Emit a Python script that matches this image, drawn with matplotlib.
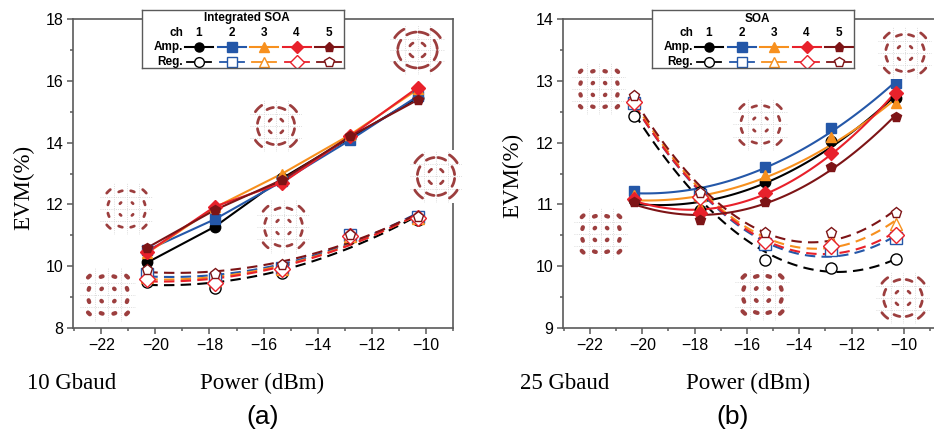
import numpy as np
import matplotlib.pyplot as plt
from matplotlib.ticker import MultipleLocator

# ---- data ----
power = [-20.3, -17.8, -15.3, -12.8, -10.3]
channels = ['1', '2', '3', '4', '5']
ch_colors = ['#000000', '#2457a8', '#f7901e', '#e8212b', '#7d1416']
amp_markers = ['o', 's', '^', 'D', 'p']

# (a) 10 Gbaud, integrated SOA
a_amp = [[10.12, 11.28, 12.85, 14.15, 15.45],
         [10.52, 11.52, 12.75, 14.08, 15.50],
         [10.43, 11.90, 13.00, 14.25, 15.72],
         [10.45, 11.93, 12.70, 14.20, 15.78],
         [10.60, 11.82, 12.80, 14.20, 15.38]]
a_reg = [[9.50, 9.30, 9.78, 10.90, 11.50],
         [9.75, 9.60, 9.95, 11.02, 11.60],
         [9.65, 9.55, 9.90, 10.97, 11.55],
         [9.60, 9.45, 9.90, 10.97, 11.55],
         [9.87, 9.75, 10.05, 11.00, 11.60]]

# (b) 25 Gbaud, SOA
b_amp = [[11.07, 10.91, 11.37, 12.02, 12.72],
         [11.22, 11.18, 11.61, 12.23, 12.96],
         [11.15, 10.96, 11.47, 12.09, 12.64],
         [11.08, 10.86, 11.19, 11.83, 12.81],
         [11.04, 10.74, 11.04, 11.61, 12.42]]
b_reg = [[12.43, 11.20, 10.10, 9.97, 10.11],
         [12.64, 11.15, 10.36, 10.26, 10.45],
         [12.70, 11.15, 10.45, 10.42, 10.69],
         [12.66, 11.12, 10.40, 10.33, 10.50],
         [12.75, 11.19, 10.53, 10.54, 10.86]]

# 16-QAM levels for the constellation thumbnails
qam_levels = [-3, -1, 1, 3]

W, H = 934, 436
fig = plt.figure(figsize=(W / 100, H / 100), dpi=100)
sans = 'Liberation Sans'
serif = 'Liberation Serif'
axis_gray = '#5a5a5a'


def px_axes(x0, y0, w, h, z=0):
    return fig.add_axes([x0 / W, 1 - (y0 + h) / H, w / W, h / H], zorder=z)


def style_axes(ax, ylim, ymaj, ymin, xlim):
    ax.set_xlim(*xlim)
    ax.set_ylim(*ylim)
    ax.xaxis.set_major_locator(MultipleLocator(2))
    ax.xaxis.set_minor_locator(MultipleLocator(1))
    ax.yaxis.set_major_locator(MultipleLocator(ymaj))
    ax.yaxis.set_minor_locator(MultipleLocator(ymin))
    for s in ax.spines.values():
        s.set_color(axis_gray)
        s.set_linewidth(1.2)
    ax.tick_params(which='both', direction='out', color=axis_gray, width=1.1)
    ax.tick_params(which='major', length=4, labelsize=11.5, pad=3)
    ax.tick_params(which='minor', length=2.2)
    for lab in ax.get_xticklabels() + ax.get_yticklabels():
        lab.set_family(sans)


def plot_panel(ax, amp, reg, fit_amp):
    xs = np.linspace(power[0], power[-1], 100)
    for k in range(5):
        c = ch_colors[k]
        if fit_amp:
            ax.plot(xs, np.polyval(np.polyfit(power, amp[k], 2), xs), color=c, lw=1.5, zorder=2)
        else:
            ax.plot(power, amp[k], color=c, lw=1.5, zorder=2)
        ax.plot(xs, np.polyval(np.polyfit(power, reg[k], 2), xs), color=c, lw=1.5,
                ls=(0, (5, 3)), zorder=2)
    for k in range(5):
        c = ch_colors[k]
        ax.plot(power, amp[k], ls='none', marker=amp_markers[k], ms=7.5,
                mfc=c, mec=c, zorder=3)
    for k in range(5):
        c = ch_colors[k]
        ax.plot(power, reg[k], ls='none', marker=amp_markers[k], ms=8,
                mfc='white', mec=c, mew=1, zorder=4)


ax_a = px_axes(73, 19, 379.7, 309)
ax_b = px_axes(563.3, 19, 370.7, 309)
plot_panel(ax_a, a_amp, a_reg, False)
plot_panel(ax_b, b_amp, b_reg, True)
style_axes(ax_a, (8, 18), 2, 1, (-23.05, -9.0))
style_axes(ax_b, (9, 14), 1, 0.5, (-23.02, -8.85))
ax_b.spines['right'].set_visible(False)


def ftext(x, y, s, **kw):
    fig.text(x / W, 1 - y / H, s, ha='center', va='center', **kw)


ftext(24, 187, 'EVM(%)', rotation=90, family=serif, fontsize=16.5)
ftext(513, 175, 'EVM(%)', rotation=90, family=serif, fontsize=16.5)
ftext(262.5, 383, 'Power (dBm)', family=serif, fontsize=16.5)
ftext(748, 383, 'Power (dBm)', family=serif, fontsize=16.5)
ftext(72, 383, '10 Gbaud', family=serif, fontsize=16.5)
ftext(565, 383, '25 Gbaud', family=serif, fontsize=16.5)
ftext(263, 417, '(a)', family=sans, fontsize=19)
ftext(733, 417, '(b)', family=sans, fontsize=19)


# constellation thumbnails (pixel box, phase-noise spread)
insets = [(80, 268, 56, 54, 0.05), (100, 183, 53, 52, 0.10), (250, 100, 52, 52, 0.18),
          (257, 200, 53, 54, 0.14), (390, 25, 55, 50, 0.25), (410, 150, 52, 53, 0.22),
          (572, 63, 54, 52, 0.04), (574, 208, 54, 52, 0.05), (733, 98, 55, 53, 0.12),
          (735, 268, 55, 53, 0.07), (878, 27, 54, 52, 0.14), (876, 272, 54, 52, 0.16)]
for x0, y0, w, h, spread in insets:
    ia = px_axes(x0, y0, w, h, z=1)
    ia.set_xlim(-4.4, 4.4)
    ia.set_ylim(-4.4, 4.4)
    ia.set_xticks([])
    ia.set_yticks([])
    for s in ia.spines.values():
        s.set_visible(False)
    for g in (-2, 0, 2):
        ia.axhline(g, color='#d0d0d0', lw=0.6, ls=':')
        ia.axvline(g, color='#d0d0d0', lw=0.6, ls=':')
    for i in qam_levels:
        for q in qam_levels:
            r = np.hypot(i, q)
            th = np.arctan2(q, i)
            t = np.linspace(th - spread, th + spread, 15)
            ia.plot(r * np.cos(t), r * np.sin(t), color='#8b1c1c',
                    lw=2.0 if spread > 0.08 else 3.0,
                    solid_capstyle='round', alpha=0.85)


def draw_legend(x0, title):
    w, h = 202, 58
    la = px_axes(x0, 10, w, h, z=2)
    la.set_xlim(0, w)
    la.set_ylim(h, 0)
    la.set_xticks([])
    la.set_yticks([])
    for s in la.spines.values():
        s.set_color(axis_gray)
        s.set_linewidth(1)
    kw = dict(family=sans, fontweight='bold', fontsize=8.5, va='center')
    la.text(w / 2 + 4, 8.5, title, ha='center', **kw)
    la.text(41, 23.5, 'ch', ha='right', **kw)
    la.text(41, 37, 'Amp.', ha='right', **kw)
    la.text(41, 52, 'Reg.', ha='right', **kw)
    for k in range(5):
        cx = 57 + 32.5 * k
        c = ch_colors[k]
        la.text(cx, 23.5, channels[k], ha='center', **kw)
        la.plot([cx - 14, cx + 14], [37, 37], color=c, lw=1.5)
        la.plot(cx, 37, marker=amp_markers[k], ms=6.5, mfc=c, mec=c)
        la.plot([cx - 12, cx + 12], [52, 52], color=c, lw=1.3)
        la.plot(cx, 52, marker=amp_markers[k], ms=7, mfc='white', mec=c, mew=1)


draw_legend(142, 'Integrated SOA')
draw_legend(652, 'SOA')

fig.savefig('out.png', dpi=100)
